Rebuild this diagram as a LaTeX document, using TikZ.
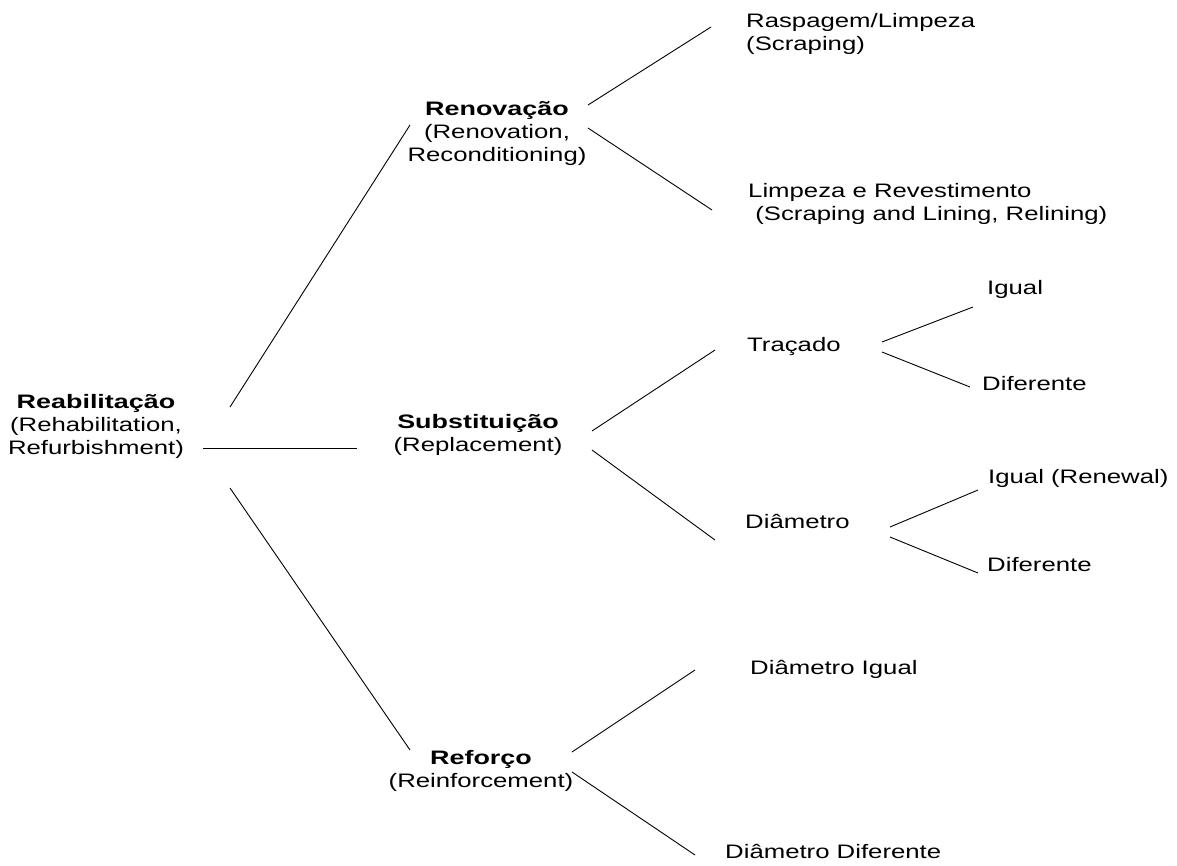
\documentclass[tikz,border=0pt]{standalone}
\usepackage{fontspec}
\setmainfont{Liberation Sans}[FakeStretch=1.32]
\newfontfamily\headfont{Liberation Sans}[FakeStretch=1.38]
\usepackage{tikz}

\begin{document}
\begin{tikzpicture}[x=1pt, y=-1pt,
    txt/.style={inner sep=0pt, font=\fontsize{19.5}{23}\selectfont},
    head/.style={txt, align=center},
    leaf/.style={txt, align=left, anchor=base west},
    link/.style={line width=0.9pt}]
    \useasboundingbox (0,0) rectangle (1177,865);

    % Nodes
    \node[head] (reab) at (96,426) {{\headfont\bfseries Reabilitação}\\(Rehabilitation,\\Refurbishment)};
    \node[head] (renov) at (497,133) {{\headfont\bfseries Renovação}\\(Renovation,\\Reconditioning)};
    \node[head] (subst) at (478,435) {{\headfont\bfseries Substituição}\\(Replacement)};
    \node[head] (reforco) at (481,771) {{\headfont\bfseries Reforço}\\(Reinforcement)};

    \node[leaf] (rasp) at (746,50) {Raspagem/Limpeza\\(Scraping)};
    \node[leaf] (limp) at (748,220) {Limpeza e Revestimento\\\ (Scraping and Lining, Relining)};
    \node[leaf] (tracado) at (747,351) {Traçado};
    \node[leaf] (diam) at (745,528) {Diâmetro};
    \node[leaf] (igualA) at (987,294) {Igual};
    \node[leaf] (difA) at (982,390) {Diferente};
    \node[leaf] (igualB) at (988,483) {Igual (Renewal)};
    \node[leaf] (difB) at (987,571) {Diferente};
    \node[leaf] (diamIg) at (750,674) {Diâmetro Igual};
    \node[leaf] (diamDif) at (725,858) {Diâmetro Diferente};

    % Edges
    \draw[link] ([shift={(134,-19)}]reab.center) -- ([shift={(-87,-8)}]renov.center);
    \draw[link] ([shift={(107,22)}]reab.center) -- ([shift={(-121,13)}]subst.center);
    \draw[link] ([shift={(134,62)}]reab.center) -- ([shift={(-71,-21)}]reforco.center);

    \draw[link] ([shift={(91,-28)}]renov.center) -- ([shift={(-35,-23)}]rasp.base west);
    \draw[link] ([shift={(91,-5)}]renov.center) -- ([shift={(-36,-10)}]limp.base west);

    \draw[link] ([shift={(114,-4)}]subst.center) -- ([shift={(-32,-1)}]tracado.base west);
    \draw[link] ([shift={(114,15)}]subst.center) -- ([shift={(-30,12)}]diam.base west);

    \draw[link] ([shift={(135,-9)}]tracado.base west) -- ([shift={(-14,13)}]igualA.base west);
    \draw[link] ([shift={(135,1)}]tracado.base west) -- ([shift={(-12,-3)}]difA.base west);
    \draw[link] ([shift={(145,-1)}]diam.base west) -- ([shift={(-10,7)}]igualB.base west);
    \draw[link] ([shift={(145,9)}]diam.base west) -- ([shift={(-9,2)}]difB.base west);

    \draw[link] ([shift={(91,-19)}]reforco.center) -- ([shift={(-55,-4)}]diamIg.base west);
    \draw[link] ([shift={(91,1)}]reforco.center) -- ([shift={(-30,-3)}]diamDif.base west);
  \end{tikzpicture}
\end{document}
